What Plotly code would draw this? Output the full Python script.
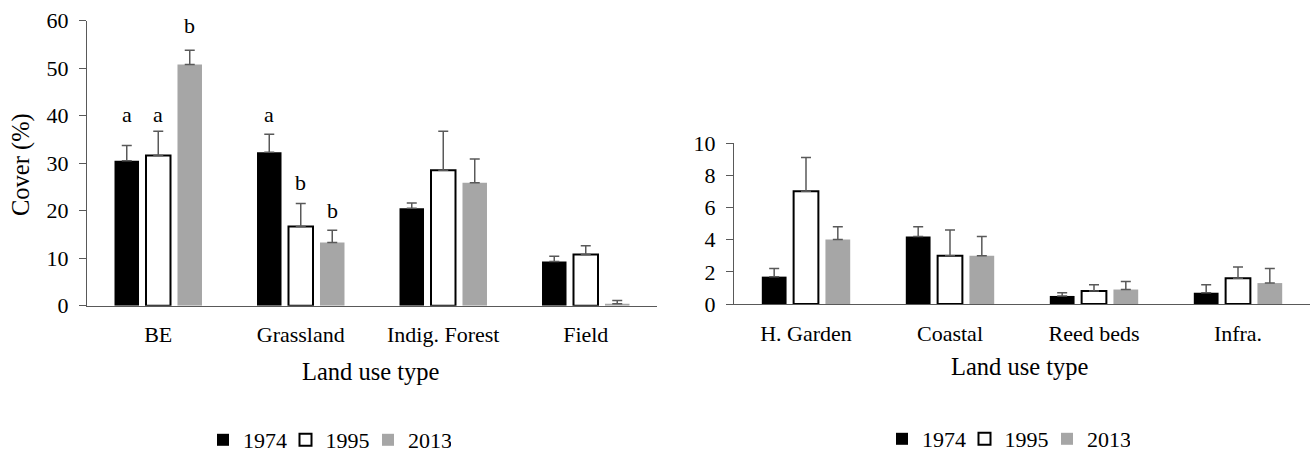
import plotly.graph_objects as go

# ---------------- data ----------------
years = ["1974", "1995", "2013"]

left_categories = ["BE", "Grassland", "Indig. Forest", "Field"]
left_1974 = [30.5, 32.3, 20.5, 9.3]
left_1995 = [31.6, 16.7, 28.5, 10.8]
left_2013 = [50.8, 13.3, 25.9, 0.4]
left_err_1974 = [3.2, 3.8, 1.1, 1.1]
left_err_1995 = [5.1, 4.8, 8.2, 1.8]
left_err_2013 = [3.0, 2.6, 5.0, 0.7]

right_categories = ["H. Garden", "Coastal", "Reed beds", "Infra."]
right_1974 = [1.7, 4.2, 0.5, 0.7]
right_1995 = [7.0, 3.0, 0.8, 1.6]
right_2013 = [4.0, 3.0, 0.9, 1.3]
right_err_1974 = [0.5, 0.6, 0.2, 0.5]
right_err_1995 = [2.1, 1.6, 0.4, 0.7]
right_err_2013 = [0.8, 1.2, 0.5, 0.9]

# significance letters: category, series index, letter, y position
letter_cats = ["BE", "BE", "BE", "Grassland", "Grassland", "Grassland"]
letter_series = [0, 1, 2, 0, 1, 2]
letter_text = ["a", "a", "b", "a", "b", "b"]
letter_y = [40.3, 40.3, 58.9, 40.3, 25.9, 20.0]

left_y_ticks = [0, 10, 20, 30, 40, 50, 60]
right_y_ticks = [0, 2, 4, 6, 8, 10]

# ---------------- style ----------------
FONT = '"Liberation Serif", "Times New Roman", Times, serif'
W, H = 1316, 452
AX = "#595959"
fills = ["#000000", "#FFFFFF", "#A6A6A6"]
lines = ["#000000", "#000000", "#A6A6A6"]
lwid = [0, 2, 0]

fig = go.Figure()

left_vals = [left_1974, left_1995, left_2013]
left_errs = [left_err_1974, left_err_1995, left_err_2013]
right_vals = [right_1974, right_1995, right_2013]
right_errs = [right_err_1974, right_err_1995, right_err_2013]

for i, yr in enumerate(years):
    fig.add_trace(go.Bar(
        x=left_categories, y=left_vals[i], name=yr,
        marker=dict(color=fills[i], line=dict(color=lines[i], width=lwid[i])),
        error_y=dict(type="data", array=left_errs[i], arrayminus=[0] * 4,
                     symmetric=False, color=AX, thickness=1.5, width=5),
        xaxis="x", yaxis="y", legend="legend",
    ))
for i, yr in enumerate(years):
    fig.add_trace(go.Bar(
        x=right_categories, y=right_vals[i], name=yr,
        marker=dict(color=fills[i], line=dict(color=lines[i], width=lwid[i])),
        error_y=dict(type="data", array=right_errs[i], arrayminus=[0] * 4,
                     symmetric=False, color=AX, thickness=1.5, width=5),
        xaxis="x2", yaxis="y2", legend="legend2",
    ))

# plot-area pixel positions
lx0, lx1 = 87, 657
ly0, ly1 = 305.7, 20.7
rx0, rx1 = 734, 1310
ry0, ry1 = 304, 143

def px(x):
    return x / W

def py(y):
    return 1 - y / H

FS = 22
tickfont = dict(family=FONT, size=FS, color="#000000")

common_x = dict(showgrid=False, showline=True, linecolor=AX, linewidth=1.3,
                ticks="", tickfont=tickfont, zeroline=False, automargin=False,
                ticklabelstandoff=9, fixedrange=True)
common_y = dict(showgrid=False, showline=True, linecolor=AX, linewidth=1.3,
                ticks="outside", ticklen=7, tickcolor=AX, tickwidth=1.3,
                tickfont=tickfont, zeroline=False, automargin=False,
                ticklabelstandoff=6, fixedrange=True)

fig.update_layout(
    template="none",
    width=W, height=H,
    margin=dict(l=0, r=0, t=0, b=0, autoexpand=False),
    paper_bgcolor="white", plot_bgcolor="white",
    barmode="group", bargap=0.337, bargroupgap=0.222,
    font=dict(family=FONT, size=FS, color="#000000"),
    xaxis=dict(domain=[px(lx0), px(lx1)], anchor="y", **common_x),
    yaxis=dict(domain=[py(ly0), py(ly1)], anchor="x", range=[0, 60],
               tickvals=left_y_ticks, **common_y),
    xaxis2=dict(domain=[px(rx0), px(rx1)], anchor="y2", **common_x),
    yaxis2=dict(domain=[py(ry0), py(ry1)], anchor="x2", range=[0, 10],
                tickvals=right_y_ticks, **common_y),
    legend=dict(orientation="h", x=px(203), y=py(440), yanchor="middle",
                xanchor="left", font=dict(family=FONT, size=FS),
                itemwidth=30, entrywidth=37.5, bgcolor="rgba(0,0,0,0)"),
    legend2=dict(orientation="h", x=px(882), y=py(439), yanchor="middle",
                 xanchor="left", font=dict(family=FONT, size=FS),
                 itemwidth=30, entrywidth=37.5, bgcolor="rgba(0,0,0,0)"),
    showlegend=True,
)

annotations = []
offsets = [-31.5, 0, 31.5]
for c, s, t, yv in zip(letter_cats, letter_series, letter_text, letter_y):
    annotations.append(dict(x=c, y=yv, xref="x", yref="y", text=t,
                            showarrow=False, xshift=offsets[s],
                            xanchor="center", yanchor="middle",
                            font=dict(family=FONT, size=22)))
TS = 24.5
annotations.append(dict(x=px(371), y=py(371), xref="paper", yref="paper",
                        text="Land use type", showarrow=False,
                        xanchor="center", yanchor="middle",
                        font=dict(family=FONT, size=TS)))
annotations.append(dict(x=px(1020), y=py(366), xref="paper", yref="paper",
                        text="Land use type", showarrow=False,
                        xanchor="center", yanchor="middle",
                        font=dict(family=FONT, size=TS)))
annotations.append(dict(x=px(21), y=py(165), xref="paper", yref="paper",
                        text="Cover (%)", showarrow=False, textangle=-90,
                        xanchor="center", yanchor="middle",
                        font=dict(family=FONT, size=TS)))
fig.update_layout(annotations=annotations)

fig.write_html("out.html", config={"displayModeBar": False},
               post_script="document.body.style.margin='0px';")
